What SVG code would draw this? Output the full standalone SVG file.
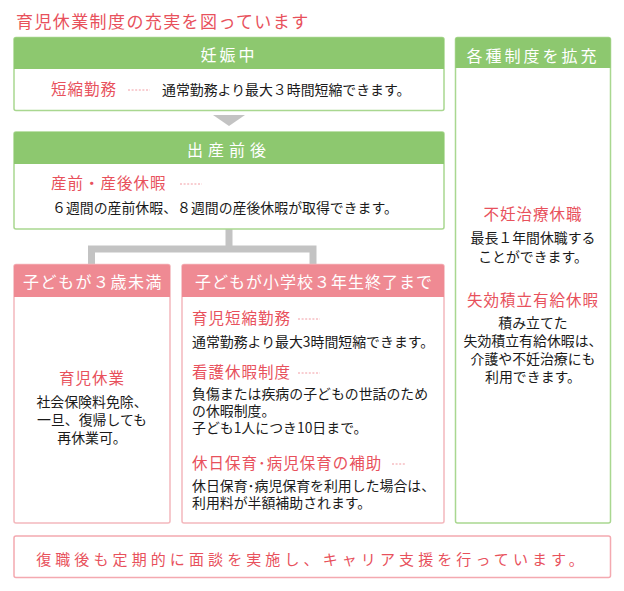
<svg xmlns="http://www.w3.org/2000/svg" width="624" height="591" viewBox="0 0 624 591">
<style>
text{font-family:"Noto Sans CJK JP","Noto Sans CJK SC",sans-serif}
.title{font-size:17px;fill:#e8515c;letter-spacing:1.4px}
.hd{font-size:16px;fill:#fff;text-anchor:middle}
.red{font-size:15.5px;fill:#e8515c;letter-spacing:1px}
.body{font-size:13.9px;fill:#1a1a1a}
.c{text-anchor:middle}
.gbox{fill:#fff;stroke:#a9d790;stroke-width:1.5}
.ghd{fill:#8dc86f}
.pbox{fill:#fff;stroke:#f4b8bd;stroke-width:1.5}
.phd{fill:#ef8a93}
.dots{stroke:#f29ca3;stroke-width:1;stroke-dasharray:2 1.6}
.conn{fill:none;stroke:#c3c3c3;stroke-width:7}
</style>
<rect width="624" height="591" fill="#fff"/>
<text class="title" x="16" y="28">育児休業制度の充実を図っています</text>

<g id="connectors">
<polygon points="213,115 245,115 229,126" fill="#c3c3c3"/>
<path class="conn" d="M229,229 V249 M91.5,264 V249 H313 V264"/>
</g>

<g id="pregnancy">
<rect class="gbox" x="14" y="37.5" width="430" height="73" rx="2"/>
<path class="ghd" d="M14,39.5 a2,2 0 0 1 2,-2 H442 a2,2 0 0 1 2,2 V69 H14 Z"/>
<text class="hd" x="229" y="61" style="letter-spacing:3px">妊娠中</text>
<text class="red" x="51" y="95">短縮勤務</text>
<line class="dots" x1="128" y1="90" x2="150" y2="90"/>
<text class="body" x="162" y="95">通常勤務より最大３時間短縮できます。</text>
</g>

<g id="birth">
<rect class="gbox" x="14" y="132" width="430" height="97" rx="2"/>
<path class="ghd" d="M14,134 a2,2 0 0 1 2,-2 H442 a2,2 0 0 1 2,2 V164 H14 Z"/>
<text class="hd" x="229" y="156" style="letter-spacing:5px">出産前後</text>
<text class="red" x="51" y="189">産前・産後休暇</text>
<line class="dots" x1="180" y1="184" x2="202" y2="184"/>
<text class="body" x="52" y="213">６週間の産前休暇、８週間の産後休暇が取得できます。</text>
</g>

<g id="under3">
<rect class="pbox" x="14" y="264.5" width="156" height="258.5" rx="2"/>
<path class="phd" d="M14,266.5 a2,2 0 0 1 2,-2 H168 a2,2 0 0 1 2,2 V297 H14 Z"/>
<text class="hd" x="93" y="288" style="letter-spacing:1.5px">子どもが３歳未満</text>
<text class="red c" x="92" y="384">育児休業</text>
<text class="body c" x="92" y="407">社会保険料免除、</text>
<text class="body c" x="92" y="425">一旦、復帰しても</text>
<text class="body c" x="92" y="443">再休業可。</text>
</g>

<g id="elementary">
<rect class="pbox" x="182" y="264.5" width="262" height="258.5" rx="2"/>
<path class="phd" d="M182,266.5 a2,2 0 0 1 2,-2 H442 a2,2 0 0 1 2,2 V297 H182 Z"/>
<text class="hd" x="314" y="288" style="letter-spacing:1px">子どもが小学校３年生終了まで</text>
<text class="red" x="192" y="324">育児短縮勤務</text>
<line class="dots" x1="298" y1="319" x2="320" y2="319"/>
<text class="body" x="192" y="347">通常勤務より最大3時間短縮できます。</text>
<text class="red" x="192" y="378">看護休暇制度</text>
<line class="dots" x1="298" y1="373" x2="320" y2="373"/>
<text class="body" x="192" y="399">負傷または疾病の子どもの世話のため</text>
<text class="body" x="192" y="416">の休暇制度。</text>
<text class="body" x="192" y="433">子ども1人につき10日まで。</text>
<text class="red" x="192" y="469">休日保育･病児保育の補助</text>
<line class="dots" x1="392" y1="464" x2="405" y2="464"/>
<text class="body" x="192" y="491">休日保育･病児保育を利用した場合は、</text>
<text class="body" x="192" y="508">利用料が半額補助されます。</text>
</g>

<g id="expansion">
<rect class="gbox" x="455.5" y="37.5" width="155" height="485.5" rx="2"/>
<path class="ghd" d="M455.5,39.5 a2,2 0 0 1 2,-2 H608.5 a2,2 0 0 1 2,2 V68 H455.5 Z"/>
<text class="hd" x="533" y="62" style="letter-spacing:3px">各種制度を拡充</text>
<text class="red c" x="533" y="220">不妊治療休職</text>
<text class="body c" x="533" y="243">最長１年間休職する</text>
<text class="body c" x="533" y="262">ことができます。</text>
<text class="red c" x="533" y="306">失効積立有給休暇</text>
<text class="body c" x="533" y="328">積み立てた</text>
<text class="body c" x="533" y="346">失効積立有給休暇は、</text>
<text class="body c" x="533" y="364">介護や不妊治療にも</text>
<text class="body c" x="533" y="382">利用できます。</text>
</g>

<g id="career">
<rect x="14" y="536" width="596.5" height="41.5" rx="2" fill="#fff" stroke="#f4a9b0" stroke-width="1.5"/>
<text x="312" y="565" text-anchor="middle" style="font-size:15px;fill:#e8515c;letter-spacing:4.1px">復職後も定期的に面談を実施し、キャリア支援を行っています。</text>
</g>
</svg>
